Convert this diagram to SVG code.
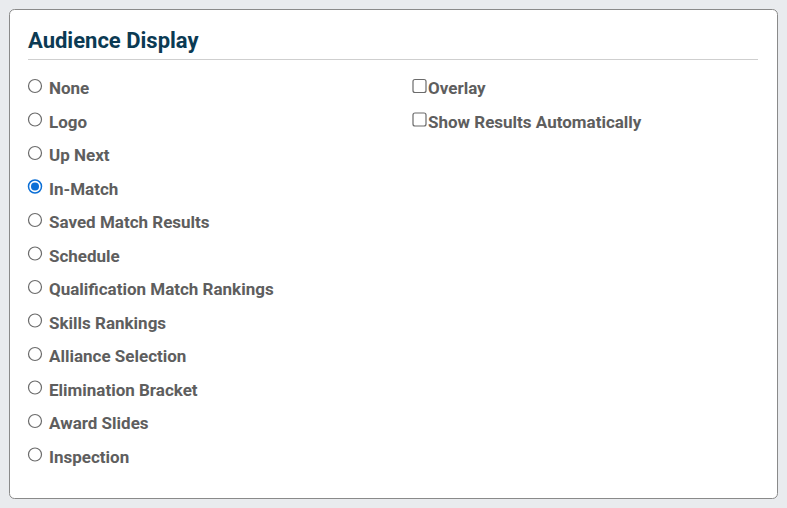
<svg xmlns="http://www.w3.org/2000/svg" width="787" height="508" viewBox="0 0 787 508">
<style>
.l{font-family:Roboto,"Liberation Sans",sans-serif;font-weight:bold;font-size:17px;fill:#5e5e5e}
.r{fill:#fff;stroke:#6b6b6b;stroke-width:1.2}
.c{fill:#fff;stroke:#6b6b6b;stroke-width:1.2}
</style>
<rect width="787" height="508" fill="#e9ebee"/>
<rect x="9.5" y="9.5" width="768" height="489" rx="5" fill="#fff" stroke="#8a8a8a"/>
<text x="28" y="48" font-family="Roboto,'Liberation Sans',sans-serif" font-weight="bold" font-size="22" fill="#0b3a53">Audience Display</text>
<line x1="28" y1="59.5" x2="758" y2="59.5" stroke="#cfcfcf"/>
<g id="radios">
<g id="r-none"><circle class="r" cx="35" cy="86" r="6.5"/><text class="l" x="49" y="94">None</text></g>
<g id="r-logo"><circle class="r" cx="35" cy="119.5" r="6.5"/><text class="l" x="49" y="127.5">Logo</text></g>
<g id="r-upnext"><circle class="r" cx="35" cy="153" r="6.5"/><text class="l" x="49" y="161">Up Next</text></g>
<g id="r-inmatch"><circle cx="35" cy="186.5" r="6.5" fill="#fff" stroke="#0b6fd6" stroke-width="1.5"/><circle cx="35" cy="186.5" r="4" fill="#0b6fd6"/><text class="l" x="49" y="194.5">In-Match</text></g>
<g id="r-saved"><circle class="r" cx="35" cy="220" r="6.5"/><text class="l" x="49" y="228">Saved Match Results</text></g>
<g id="r-schedule"><circle class="r" cx="35" cy="253.5" r="6.5"/><text class="l" x="49" y="261.5">Schedule</text></g>
<g id="r-qual"><circle class="r" cx="35" cy="287" r="6.5"/><text class="l" x="49" y="295">Qualification Match Rankings</text></g>
<g id="r-skills"><circle class="r" cx="35" cy="320.5" r="6.5"/><text class="l" x="49" y="328.5">Skills Rankings</text></g>
<g id="r-alliance"><circle class="r" cx="35" cy="354" r="6.5"/><text class="l" x="49" y="362">Alliance Selection</text></g>
<g id="r-elim"><circle class="r" cx="35" cy="387.5" r="6.5"/><text class="l" x="49" y="395.5">Elimination Bracket</text></g>
<g id="r-award"><circle class="r" cx="35" cy="421" r="6.5"/><text class="l" x="49" y="429">Award Slides</text></g>
<g id="r-insp"><circle class="r" cx="35" cy="454.5" r="6.5"/><text class="l" x="49" y="462.5">Inspection</text></g>
</g>
<g id="checks">
<g id="c-overlay"><rect class="c" x="413" y="79.5" width="13" height="13" rx="2"/><text class="l" x="428" y="94">Overlay</text></g>
<g id="c-show"><rect class="c" x="413" y="113" width="13" height="13" rx="2"/><text class="l" x="428" y="127.5">Show Results Automatically</text></g>
</g>
</svg>
